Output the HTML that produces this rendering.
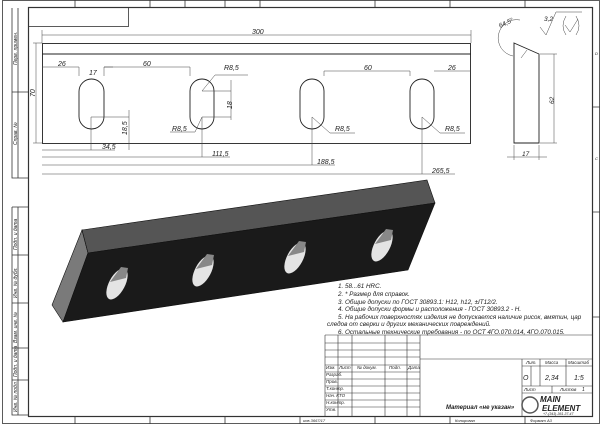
<!DOCTYPE html>
<html><head><meta charset="utf-8"><style>
html,body{margin:0;padding:0;background:#fff}
svg{display:block}
text{font-family:"Liberation Sans","DejaVu Sans",sans-serif;font-style:italic;fill:#222}
</style></head><body>
<svg width="600" height="424" viewBox="0 0 600 424" xmlns="http://www.w3.org/2000/svg">
<rect x="0" y="0" width="600" height="424" fill="#fff"/>
<g stroke="#333" fill="none" stroke-width="0.8">
<rect x="2.5" y="0.5" width="597" height="423"/>
<rect x="28.5" y="7.5" width="564" height="409" stroke-width="1.2"/>
<path d="M75 0V7M150 0V7M185 0V7M225 0V7M260 0V7M375 0V7M450 0V7M525 0V7"/>
<path d="M75 417V424M150 417V424M225 417V424M300 417V424M375 417V424M450 417V424M525 417V424M592 107H600M592 212H600M592 317H600"/>
<path d="M12 8V178H28M18 8V178M12 92H28"/>
<path d="M12 207H28M12 207V415H28M18 207V415M12 255H28M12 303H28M12 348H28M12 380H28"/>
<rect x="28.5" y="7.5" width="100" height="19"/>
</g>
<g font-size="5" fill="#444">
<text transform="translate(17,65) rotate(-90)">Перв. примен.</text>
<text transform="translate(17,145) rotate(-90)">Справ. №</text>
<text transform="translate(17,250) rotate(-90)">Подп. и дата</text>
<text transform="translate(17,298) rotate(-90)">Инв. № дубл.</text>
<text transform="translate(17,343) rotate(-90)">Взам. инв. №</text>
<text transform="translate(17,377) rotate(-90)">Подп. и дата</text>
<text transform="translate(17,412) rotate(-90)">Инв. № подл.</text>
</g>
<g stroke="#222" fill="none" stroke-width="0.9">
<rect x="42.5" y="43.5" width="428" height="100"/>
<path d="M42 54H471"/>
<rect x="79" y="79" width="25" height="50" rx="12.5"/>
<rect x="190" y="79" width="24" height="50" rx="12"/>
<rect x="300" y="79" width="24" height="50" rx="12"/>
<rect x="410" y="79" width="24" height="50" rx="12"/>
</g>
<g stroke="#444" fill="none" stroke-width="0.5">
<path d="M42 35H471M42 30V43M471 30V43"/>
<path d="M36 43V143M33 43H42M33 143H42"/>
<path d="M42 67H79M79 67V76M104 67H113M104 67V76M104 67H190M190 67V76"/>
<path d="M324 71H410M410 71V76M324 71V76M434 71H471"/>
<path d="M91 117V150M91 117H129M129 110V150M42 150H115"/>
<path d="M202 117H231M202 91H231M231 80V120M202 117V157M42 157H230"/>
<path d="M312 117V165M42 165H335M422 117V174M42 174H455"/>
<path d="M202 91L215 75H248M202 117L195 132H170M312 117L330 133H355M422 117L440 133H465"/>
</g>
<g font-size="7">
<text x="252" y="34">300</text>
<text transform="translate(35,97) rotate(-90)">70</text>
<text x="58" y="66">26</text>
<text x="89" y="75">17</text>
<text x="143" y="66">60</text>
<text x="364" y="70">60</text>
<text x="448" y="70">26</text>
<text x="224" y="70">R8,5</text>
<text x="172" y="131">R8,5</text>
<text x="335" y="131">R8,5</text>
<text x="445" y="131">R8,5</text>
<text transform="translate(232,109) rotate(-90)">18</text>
<text transform="translate(127,135) rotate(-90)">18,5</text>
<text x="102" y="149">34,5</text>
<text x="212" y="156">111,5</text>
<text x="317" y="164">188,5</text>
<text x="432" y="173">265,5</text>
</g>
<g stroke="#222" fill="none" stroke-width="0.9">
<path d="M514 43L539 54V143H514Z"/>
</g>
<g stroke="#444" fill="none" stroke-width="0.5">
<path d="M540 54H557M540 143H557M554 54V143M514 145V160M539 145V160M507 157H547"/>
<path d="M513 56A17 17 0 1 1 520 20M521 58L527 50"/>
<path d="M540 27L546 35L556 12H582"/>
<path d="M566 16Q560 26 566 35M576 16Q582 26 576 35M565 25L570 32L578 19"/>
</g>
<g font-size="6.5">
<text transform="translate(554,104) rotate(-90)">62</text>
<text x="522" y="156">17</text>
<text x="500" y="28" transform="rotate(-25 500 28)">64,5°</text>
<text x="544" y="21">3,2</text>
<text x="595" y="55" font-size="4">D</text>
<text x="595" y="160" font-size="4">C</text>
</g>
<polygon points="52,305 82,230 88,253 63,322" fill="#7a7a7a" stroke="#111" stroke-width="0.6"/>
<polygon points="82,230 427,180 435,203 88,253" fill="#555" stroke="#111" stroke-width="0.6"/>
<polygon points="88,253 435,203 408,270 63,322" fill="#1a1a1a" stroke="#111" stroke-width="0.6"/>
<g>
<ellipse cx="117" cy="284" rx="8" ry="17" transform="rotate(28 117 284)" fill="#e4e4e4"/>
<ellipse cx="203" cy="271" rx="8" ry="17" transform="rotate(28 203 271)" fill="#e4e4e4"/>
<ellipse cx="295" cy="258" rx="8" ry="17" transform="rotate(28 295 258)" fill="#e4e4e4"/>
<ellipse cx="382" cy="246" rx="8" ry="17" transform="rotate(28 382 246)" fill="#e4e4e4"/>
<path d="M110 282L126 278L128 268L121 267Z M196 269L212 265L214 255L207 254Z M288 256L304 252L306 242L299 241Z M375 244L391 240L393 230L386 229Z" fill="#888"/>
</g>
<g font-size="6.3">
<text x="338" y="288">1. 58...61 HRC.</text>
<text x="338" y="296">2. * Размер для справок.</text>
<text x="338" y="304">3. Общие допуски по ГОСТ 30893.1: H12, h12, ±IT12/2.</text>
<text x="338" y="311">4. Общие допуски формы и расположения - ГОСТ 30893.2 - Н.</text>
<text x="338" y="319">5. На рабочих поверхностях изделия не допускается наличие рисок, вмятин, цар</text>
<text x="327" y="326">следов от сверки и других механических повреждений.</text>
<text x="338" y="334">6. Остальные технические требования - по ОСТ 4ГО.070.014, 4ГО.070.015.</text>
</g>
<g stroke="#333" fill="none" stroke-width="0.6">
<path d="M325 335H592M325 335V416"/>
<path d="M325 343H420M325 350H420M325 357H420M325 365H420M325 372H420M325 379H420M325 386H420M325 393H420M325 400H420M325 407H420"/>
<path d="M338 335V416M352 335V416M385 335V416M407 335V416M420 335V416"/>
<path d="M420 359H592M522 359V416M522 366H592M522 386H592M522 393H592M540 359V386M531 366V386M566 359V386M552 386V393"/>
</g>
<g font-size="4.5">
<text x="326" y="369">Изм.</text><text x="339" y="369">Лист</text><text x="357" y="369">№ докум.</text><text x="389" y="369">Подп.</text><text x="408" y="369">Дата</text>
<text x="326" y="376">Разраб.</text><text x="326" y="383">Пров.</text><text x="326" y="390">Т.контр.</text><text x="326" y="397">Нач. КТО</text><text x="326" y="404">Н.контр.</text><text x="326" y="411">Утв.</text>
<text x="526" y="364">Лит.</text><text x="545" y="364">Масса</text><text x="568" y="364">Масштаб</text>
<text x="524" y="391">Лист</text><text x="560" y="391">Листов</text>
</g>
<g font-size="7">
<text x="523" y="380" font-style="normal">О</text>
<text x="545" y="380" font-style="normal">2,34</text>
<text x="574" y="380" font-style="normal">1:5</text>
<text x="582" y="391" font-size="5">1</text>
<text x="446" y="409" font-weight="bold" font-size="6">Материал «не указан»</text>
</g>
<g>
<circle cx="530" cy="405" r="8" fill="none" stroke="#555" stroke-width="1.5"/>
<text x="540" y="402" font-style="normal" font-weight="bold" font-size="8">MAIN</text>
<text x="542" y="411" font-style="normal" font-weight="bold" font-size="8">ELEMENT</text>
<text x="543" y="415" font-size="3.5">+7-(343)-361-37-47</text>
</g>
<g font-size="4" fill="#555">
<text x="455" y="422">Копировал</text>
<text x="530" y="422">Формат А3</text>
<text x="303" y="422">инв.3667/17</text>
</g>
</svg>
</body></html>
